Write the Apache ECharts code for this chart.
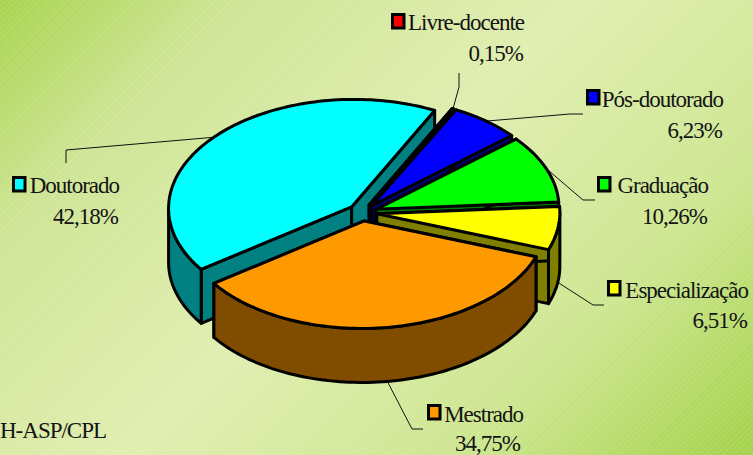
<!DOCTYPE html>
<html><head><meta charset="utf-8">
<style>
html,body{margin:0;padding:0;width:753px;height:455px;overflow:hidden}
body{background:
 repeating-linear-gradient(135deg,rgba(255,255,255,0.10) 0 1px,rgba(255,255,255,0) 1px 4px),
 linear-gradient(135deg,#a8d44f 0%,#cfe596 20%,#e0eeb0 48%,#cde690 76%,#a4d24a 100%);}
#c{width:753px;height:455px}
#c svg text{letter-spacing:-1px}
</style>
<script src="https://cdn.jsdelivr.net/npm/echarts@6/dist/echarts.min.js"></script>
</head><body><div id="c"></div>
<script>
const categories=['Livre-docente','Pós-doutorado','Graduação','Especialização','Mestrado','Doutorado'];
const values=[0.15,6.23,10.26,6.51,34.75,42.18];
const topColors=['#ff0000','#0000ff','#00ff00','#ffff00','#ff9900','#00ffff'];
const wallColors=['#800000','#000080','#008000','#808000','#804c00','#008080'];
const drawOrder=[5,0,1,2,3,4];
const source='H-ASP/CPL';

// layout of the tilted pie
const C=[362.5,212.5],RX=183,RY=107.5,DEPTH=54,EXPLODE=14.5,START=27,SKEW=0.008;
const K=RY/RX;
// layout of the callouts (index as in categories)
const callouts=[
 {nameRight:524,nameBase:29,pctRight:523,pctBase:60,keyX:392.5,keyY:14.5,elbow:[[459,87],[459,73]]},
 {nameRight:723,nameBase:106,pctRight:722,pctBase:137,keyX:587.5,keyY:90.5,elbow:[[570,114],[583,114]]},
 {nameRight:708,nameBase:192,pctRight:707,pctBase:223,keyX:598.5,keyY:177.5,elbow:[[583,200],[595,200]]},
 {nameRight:748,nameBase:297,pctRight:747,pctBase:327,keyX:608.5,keyY:281.5,elbow:[[593,305],[604,305]],low:true},
 {nameRight:523,nameBase:421,pctRight:520,pctBase:450.5,keyX:428.5,keyY:405.5,elbow:[[412,429],[423,429]],low:true},
 {nameRight:119,nameBase:192,pctRight:118,pctBase:223,keyX:13.5,keyY:177.5,elbow:[[66,150],[66,163]]}
];

const total=values.reduce((a,b)=>a+b,0);
const rad=d=>d*Math.PI/180;
function angles(i){let s=START;for(let j=0;j<i;j++)s+=values[j]/total*360;return [s,s+values[i]/total*360];}
function apex(i){const [a,b]=angles(i),m=rad((a+b)/2);return [C[0]+EXPLODE*Math.sin(m),C[1]-EXPLODE*Math.cos(m)*K];}
function rim(p,d,dy){const x=p[0]+RX*Math.sin(rad(d));return [x,p[1]-RY*Math.cos(rad(d))+(dy||0)-SKEW*(x-p[0])];}
function arc(p,a,b,dy){const n=Math.max(2,Math.ceil(Math.abs(b-a)/1.5)),o=[];for(let t=0;t<=n;t++)o.push(rim(p,a+(b-a)*t/n,dy));return o;}
const edge={stroke:'#000',lineWidth:3,lineJoin:'round'};
function poly(points,fill){return {type:'polygon',shape:{points},style:Object.assign({fill},edge)};}

function renderSlice(params,api){
  const i=api.value(0),[a,b]=angles(i),p=apex(i),ch=[];
  const cut=d=>{const r=rim(p,d);return poly([p,r,[r[0],r[1]+DEPTH],[p[0],p[1]+DEPTH]],wallColors[i]);};
  ch.push(cut(b));ch.push(cut(a));
  const ra=Math.max(a,90),rb=Math.min(b,270);
  if(rb>ra){ch.push(poly(arc(p,ra,rb,0).concat(arc(p,rb,ra,DEPTH)),wallColors[i]));}
  ch.push(poly([p].concat(arc(p,a,b,0)),topColors[i]));
  return {type:'group',children:ch};
}
function txt(s,x,base){return {type:'text',x:x,y:base+4.5,style:{text:s,fontFamily:'"Liberation Serif"',fontSize:23,fill:'#141414',textAlign:'right',textVerticalAlign:'bottom'}};}
function renderCallout(params,api){
  const i=api.value(0),[a,b]=angles(i),c=callouts[i],p=apex(i);
  const anchor=rim(p,(a+b)/2,c.low?DEPTH:0);
  return {type:'group',children:[
    {type:'polyline',shape:{points:[anchor].concat(c.elbow)},style:{stroke:'#111',lineWidth:1,fill:null}},
    {type:'rect',shape:{x:c.keyX,y:c.keyY,width:11.5,height:13.5},style:{fill:topColors[i],stroke:'#000',lineWidth:3}},
    txt(categories[i],c.nameRight,c.nameBase),
    txt(values[i].toFixed(2).replace('.',',')+'%',c.pctRight,c.pctBase)
  ]};
}
const chart=echarts.init(document.getElementById('c'),null,{renderer:'svg'});
chart.setOption({
  animation:false,backgroundColor:'transparent',
  series:[
    {type:'custom',coordinateSystem:'none',silent:true,data:drawOrder.map(i=>[i,values[i]]),renderItem:renderSlice,z:2},
    {type:'custom',coordinateSystem:'none',silent:true,data:values.map((v,i)=>[i,v]),renderItem:renderCallout,z:1}
  ],
  graphic:[{type:'text',x:0,y:441.5,style:{text:source,fontFamily:'"Liberation Serif"',fontSize:23,fill:'#141414',textAlign:'left',textVerticalAlign:'bottom'}}]
});
</script></body></html>
